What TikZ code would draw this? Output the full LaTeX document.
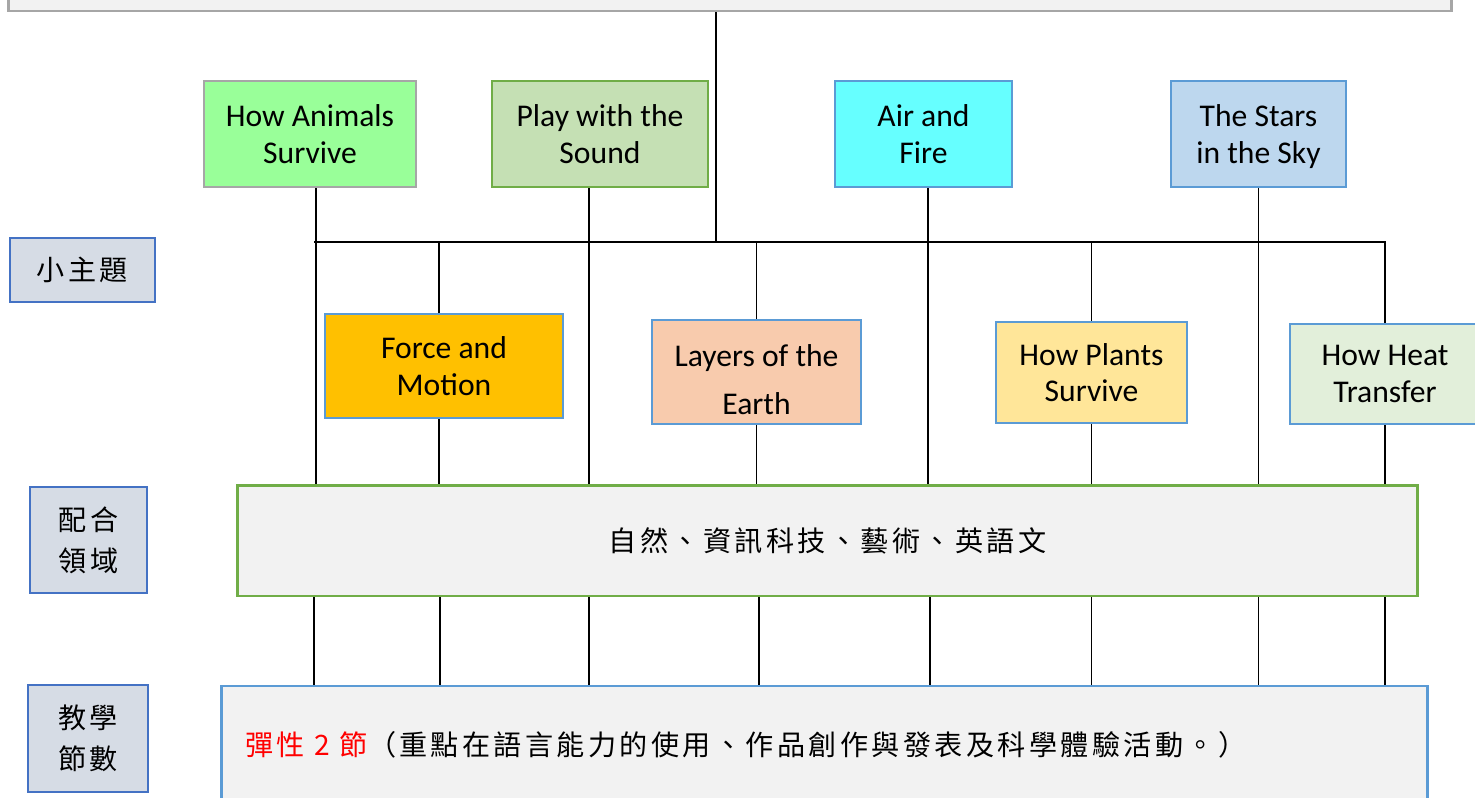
\documentclass[tikz,border=0pt]{standalone}
\usepackage{fontspec}
\setmainfont{Carlito}
\newfontfamily\cjk[LetterSpace=12]{Noto Sans CJK TC}
\usepackage{tikz}

\definecolor{boxgray}{HTML}{F2F2F2}
\definecolor{edgegray}{HTML}{A6A6A6}
\definecolor{edgegreen}{HTML}{70AD47}
\definecolor{edgeblue}{HTML}{5B9BD5}
\definecolor{edgedark}{HTML}{4472C4}
\definecolor{labfill}{HTML}{D6DCE5}
\definecolor{animfill}{HTML}{99FF99}
\definecolor{soundfill}{HTML}{C5E0B4}
\definecolor{airfill}{HTML}{66FFFF}
\definecolor{starsfill}{HTML}{BDD7EE}
\definecolor{forcefill}{HTML}{FFC000}
\definecolor{layersfill}{HTML}{F8CBAD}
\definecolor{plantsfill}{HTML}{FFE699}
\definecolor{heatfill}{HTML}{E2EFDA}

\tikzset{
    topicbox/.style={draw=edgeblue, line width=1.4pt, align=center, inner sep=0pt,
        text depth=0pt, font=\fontsize{18}{21}\selectfont},
    sidelabel/.style={draw=edgedark, fill=labfill, line width=1.4pt, align=center,
        inner sep=0pt, font=\cjk\fontsize{16}{23.3}\selectfont},
    link/.style={line width=1.1pt}
}

\begin{document}
\begin{tikzpicture}[x=0.02cm, y=-0.02cm]
        \useasboundingbox (0,0) rectangle (1475,798);
        \clip (0,0) rectangle (1475,798);
        % top bar and the main stem
        \node[draw=edgegray, fill=boxgray, line width=1.6pt, minimum width=28.88cm, minimum height=0.82cm] (top) at (730,-9.5) {};
        \coordinate (stem) at (716,242);
        \coordinate (hl) at (314,242);
        \coordinate (hr) at (1386,242);
        % side labels
        \node[sidelabel, minimum width=2.9cm, minimum height=1.28cm] (lab1) at (82.5,270) {小主題};
        \node[sidelabel, minimum width=2.34cm, minimum height=2.12cm] (lab2) at (88.5,540) {配合\\領域};
        \node[sidelabel, minimum width=2.4cm, minimum height=2.14cm] (lab3) at (88,738.5) {教學\\節數};
        % upper row of topics
        \node[topicbox, draw=edgegray, fill=animfill, minimum width=4.24cm, minimum height=2.12cm] (anim) at (310,134) {How Animals\\Survive};
        \node[topicbox, draw=edgegreen, fill=soundfill, minimum width=4.32cm, minimum height=2.12cm] (sound) at (600,134) {Play with the\\Sound};
        \node[topicbox, fill=airfill, minimum width=3.54cm, minimum height=2.12cm] (air) at (923.5,134) {Air and\\Fire};
        \node[topicbox, fill=starsfill, minimum width=3.5cm, minimum height=2.12cm] (stars) at (1258.5,134) {The Stars\\in the Sky};
        % lower row of topics
        \node[topicbox, fill=forcefill, minimum width=4.76cm, minimum height=2.08cm] (force) at (444,366) {Force and\\Motion};
        \node[topicbox, fill=layersfill, minimum width=4.18cm, minimum height=2.08cm] (layers) at (756.5,372) {\rule{0pt}{21pt}Layers of the\\[6pt]Earth};
        \node[topicbox, fill=plantsfill, minimum width=3.82cm, minimum height=2.02cm] (plants) at (1091.5,372.5) {How Plants\\Survive};
        \node[topicbox, fill=heatfill, minimum width=3.8cm, minimum height=2.0cm] (heat) at (1385,374) {How Heat\\Transfer};
        % domains and lessons
        \node[draw=edgegreen, fill=boxgray, line width=1.7pt, minimum width=23.62cm, minimum height=2.22cm,
            font=\cjk\fontsize{16}{20}\selectfont] (dom) at (827.5,540.5) {自然、資訊科技、藝術、英語文};
        \node[draw=edgeblue, fill=boxgray, line width=1.6pt, minimum width=24.14cm, minimum height=2.48cm] (hours) at (824.5,748) {};
        \node[anchor=west, inner sep=0pt, font=\cjk\fontsize{16}{20}\selectfont] (hourstxt) at (245,745)
            {\textcolor{red}{彈性 2 節}（重點在語言能力的使用、作品創作與發表及科學體驗活動。）};
        % connectors
        \draw[link] (stem |- top.south) -- (stem);
        \draw[link] (hl) -- (hr);
        \foreach \t/\s in {anim/0.12, sound/-0.22, air/0.09, stars/0} {
            \draw[link] ([xshift=\s cm]\t.south) -- ([xshift=\s cm]\t.south |- dom.north);
        }
        \foreach \t/\s in {force/-0.1, layers/0, plants/0, heat/0} {
            \draw[link] ([xshift=\s cm]\t.north |- hl) -- ([xshift=\s cm]\t.north);
            \draw[link] ([xshift=\s cm]\t.south) -- ([xshift=\s cm]\t.south |- dom.north);
        }
        \foreach \t/\s in {anim/0.08, sound/-0.22, layers/0.05, air/0.13, stars/0, force/-0.08, plants/0, heat/0} {
            \draw[link] ([xshift=\s cm]\t.south |- dom.south) -- ([xshift=\s cm]\t.south |- hours.north);
        }
    \end{tikzpicture}
\end{document}
